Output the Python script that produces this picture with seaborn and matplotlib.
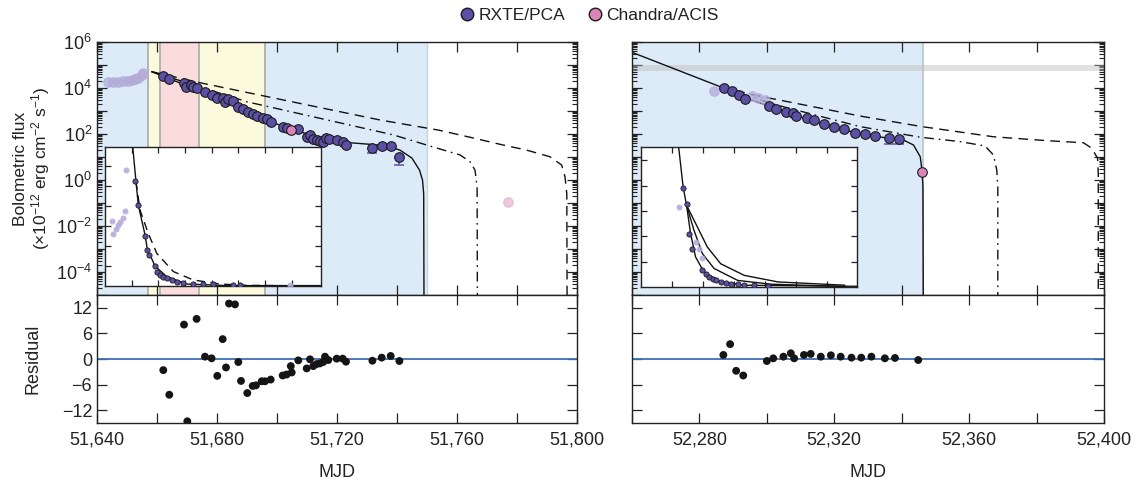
import numpy as np
import pandas as pd
import matplotlib
matplotlib.use("Agg")
import matplotlib.pyplot as plt
import seaborn as sns
from matplotlib.ticker import LogLocator, MultipleLocator, FuncFormatter, NullFormatter, FixedLocator
from matplotlib.lines import Line2D

# ------------------------------------------------------------------ data
# ---- left outburst (MJD 51640-51800), log10 bolometric flux
left_pre_mjd = [51643.8, 51645.4, 51647.1, 51648.8, 51650.4, 51651.6, 51652.7, 51653.8, 51654.9, 51655.4]
left_pre_log = [4.27, 4.25, 4.27, 4.32, 4.32, 4.35, 4.39, 4.42, 4.57, 4.64]
left_mjd = [51662.1, 51664.1, 51669.0, 51669.7, 51671.2, 51672.1, 51673.2, 51676.0, 51678.2, 51679.9,
            51682.1, 51682.7, 51683.8, 51685.4, 51687.1, 51688.6, 51690.2, 51692.1, 51693.2, 51695.2,
            51696.6, 51697.9, 51701.9, 51703.2, 51707.1, 51709.9, 51711.0, 51712.1, 51713.2, 51714.3,
            51715.4, 51716.2, 51717.4, 51719.9, 51721.9, 51723.0, 51731.8, 51734.9, 51737.9, 51740.8]
left_log = [4.52, 4.38, 4.20, 4.06, 4.13, 4.03, 3.99, 3.81, 3.70, 3.55,
            3.55, 3.41, 3.51, 3.43, 3.19, 3.07, 2.97, 2.87, 2.80, 2.68,
            2.64, 2.54, 2.29, 2.25, 2.20, 1.88, 1.96, 1.77, 1.74, 1.71,
            1.64, 1.81, 1.77, 1.74, 1.67, 1.52, 1.38, 1.49, 1.49, 0.99]
left_err_mjd = [51731.8, 51740.8]
left_err_log = [1.38, 0.99]
left_err_low = [1.17, 0.65]
left_chandra_mjd = [51704.6]
left_chandra_log = [2.17]
left_chandra_faint_mjd = [51777.1]
left_chandra_faint_log = [-0.94]

left_solid_mjd = [51658.2, 51672.1, 51685.4, 51697.7, 51711.0, 51724.3, 51736.0, 51741.0, 51745.0, 51747.5, 51748.5, 51748.9, 51749.0]
left_solid_log = [4.71, 3.99, 3.26, 2.53, 1.96, 1.62, 1.50, 1.30, 0.95, 0.43, 0.00, -0.60, -5.5]
left_dash_mjd = [51658.2, 51675.4, 51734.3, 51753.8, 51764.3, 51775.4, 51783.2, 51791.0, 51794.9, 51796.0, 51796.6, 51796.7]
left_dash_log = [4.71, 4.20, 2.61, 2.17, 1.86, 1.52, 1.30, 1.01, 0.65, 0.14, -0.60, -5.5]
left_dashdot_mjd = [51658.2, 51690.0, 51738.8, 51749.9, 51761.0, 51764.3, 51766.0, 51766.7, 51766.8]
left_dashdot_log = [4.71, 3.40, 1.96, 1.52, 1.09, 0.80, 0.43, -0.30, -5.5]

left_region_edges = [51640, 51657.1, 51661.0, 51674.1, 51696.0, 51749.9]
left_region_colors = ["#dcebf7", "#fbfadc", "#fbdcdc", "#fbfadc", "#dcebf7"]

left_res_mjd = [51662.1, 51664.1, 51669.0, 51670.1, 51673.2, 51676.0, 51678.2, 51680.1, 51681.9, 51683.0,
                51684.0, 51686.0, 51687.1, 51688.0, 51690.1, 51691.9, 51693.0, 51694.9, 51696.0, 51697.9,
                51701.9, 51703.2, 51704.6, 51704.9, 51707.1, 51709.9, 51711.0, 51712.1, 51713.2, 51714.3,
                51715.4, 51716.0, 51717.1, 51719.9, 51721.9, 51723.0, 51731.8, 51734.9, 51737.9, 51740.8]
left_res = [-2.61, -8.38, 8.06, -14.6, 9.40, 0.55, 0.16, -3.95, 4.66, -1.98,
            13.0, 12.8, -0.71, -5.14, -7.98, -6.32, -6.17, -5.22, -5.22, -4.82,
            -3.87, -3.64, -1.66, -3.16, -0.32, -2.21, -0.08, -1.66, -1.19, -1.03,
            -0.71, 0.55, -0.24, 0.08, 0.08, -0.63, -0.40, 0.32, 0.71, -0.47]

# ---- right outburst (MJD 52260-52400)
right_pre_mjd = [52284.4, 52295.5, 52297.5, 52299.5]
right_pre_log = [3.88, 3.65, 3.58, 3.48]
right_mjd = [52287.4, 52289.6, 52291.6, 52293.5, 52300.5, 52302.6, 52305.7, 52307.7, 52308.7, 52311.8,
             52314.0, 52317.0, 52319.9, 52323.0, 52326.0, 52329.1, 52332.1, 52336.2, 52339.3]
right_log = [3.99, 3.88, 3.70, 3.52, 3.22, 3.09, 2.97, 2.90, 2.78, 2.68,
             2.61, 2.42, 2.32, 2.20, 2.06, 1.99, 1.91, 1.81, 1.77]
right_err_mjd = [52336.2, 52339.3]
right_err_log = [1.81, 1.77]
right_err_low = [1.58, 1.58]
right_chandra_mjd = [52346.1]
right_chandra_log = [0.36]

right_solid_mjd = [52260.0, 52286.1, 52293.5, 52300.5, 52308.7, 52317.0, 52326.0, 52334.0, 52340.5, 52343.5, 52345.5, 52346.0, 52346.3, 52346.4]
right_solid_log = [5.55, 4.06, 3.58, 3.22, 2.80, 2.42, 2.06, 1.86, 1.74, 1.52, 1.01, 0.43, -0.30, -5.5]
right_dash_mjd = [52286.0, 52296.0, 52327.7, 52346.0, 52367.2, 52383.1, 52393.9, 52396.4, 52398.1, 52398.3, 52398.3]
right_dash_log = [4.05, 3.70, 2.78, 2.32, 1.88, 1.71, 1.62, 1.38, 0.94, 0.30, -5.5]
right_dashdot_mjd = [52286.0, 52302.9, 52327.7, 52345.5, 52357.3, 52364.7, 52367.2, 52368.2, 52368.5, 52368.5]
right_dashdot_log = [4.05, 3.26, 2.32, 1.86, 1.67, 1.48, 1.09, 0.43, -0.30, -5.5]

right_region_edges = [52260, 52346.4]
right_region_colors = ["#dcebf7"]
right_band_log = [4.75, 5.0]

right_res_mjd = [52287.1, 52289.1, 52290.9, 52293.0, 52300.0, 52301.9, 52304.9, 52307.1, 52308.1, 52311.0,
                 52313.0, 52316.0, 52319.0, 52321.9, 52325.1, 52328.0, 52331.0, 52335.0, 52338.0, 52344.9]
right_res = [0.95, 3.48, -2.77, -3.87, -0.47, 0.16, 0.55, 1.34, 0.16, 0.95,
             1.19, 0.55, 0.87, 0.55, 0.32, 0.32, 0.55, 0.16, 0.24, -0.24]

# ---- insets (linear, arbitrary units)
li_solid_x = [1.00, 1.04, 1.16, 1.25, 1.50, 1.58, 1.87, 2.31, 3.06, 4.56, 8.09]
li_solid_y = [7.40, 6.93, 5.22, 4.02, 2.55, 1.88, 1.00, 0.47, 0.10, 0.02, 0.02]
li_dash_x = [1.16, 1.31, 1.62, 1.94, 2.56, 3.31, 4.31, 5.31, 6.60]
li_dash_y = [5.22, 3.80, 2.63, 1.63, 0.72, 0.30, 0.10, 0.03, 0.02]
li_pts_x = [1.14, 1.24, 1.50, 1.59, 1.66, 1.87, 1.96, 2.06, 2.18, 2.31, 2.50, 2.69, 2.93, 3.31, 3.68, 4.06, 4.81, 5.06]
li_pts_y = [5.22, 4.02, 2.52, 1.80, 1.55, 1.00, 0.72, 0.55, 0.47, 0.38, 0.30, 0.22, 0.13, 0.10, 0.08, 0.08, 0.07, 0.07]
li_faint_x = [0.79, 0.25, 0.31, 0.41, 0.50, 0.56, 0.66, 0.75, 6.93]
li_faint_y = [5.80, 3.27, 2.60, 2.83, 3.05, 3.22, 3.38, 3.72, 0.05]

ri_c1_x = [1.17, 1.22, 1.36, 1.47, 1.60, 1.76, 2.03, 2.57, 3.33, 6.58, 6.97]
ri_c1_y = [5.90, 5.47, 3.95, 3.23, 2.11, 1.19, 0.59, 0.20, 0.07, 0.03, 0.03]
ri_c2_x = [1.47, 1.71, 1.98, 2.36, 3.12, 4.20, 6.58]
ri_c2_y = [3.23, 2.24, 1.32, 0.73, 0.26, 0.11, 0.02]
ri_c3_x = [1.47, 1.82, 2.14, 2.57, 3.33, 4.42, 6.58]
ri_c3_y = [3.23, 2.37, 1.58, 0.92, 0.46, 0.20, 0.07]
ri_pts_x = [1.36, 1.47, 1.55, 1.66, 1.98, 2.09, 2.19, 2.31, 2.41, 2.57, 2.74, 2.90, 3.12, 3.33, 3.66, 4.09]
ri_pts_y = [3.91, 3.26, 2.11, 1.49, 0.69, 0.53, 0.40, 0.33, 0.26, 0.20, 0.16, 0.12, 0.11, 0.08, 0.07, 0.05]
ri_faint_x = [1.22, 1.76, 1.87, 1.98]
ri_faint_y = [3.16, 1.78, 1.49, 1.16]

# ------------------------------------------------------------------ style
PURPLE = "#5b4fa6"
FAINT = "#b3aad8"
PINK = "#dc84b8"
EDGE = "#1c1c1c"
RESBLUE = "#3f6fb5"
GRAYLINE = "#b4b4b4"

sns.set_theme(style="ticks")
plt.rcParams["font.family"] = ["Liberation Sans", "DejaVu Sans"]
plt.rcParams.update({
    "mathtext.fontset": "custom",
    "mathtext.rm": "Liberation Sans",
    "mathtext.it": "Liberation Sans:italic",
    "mathtext.bf": "Liberation Sans:bold",
    "xtick.direction": "in", "ytick.direction": "in",
    "xtick.top": True, "ytick.right": True,
    "xtick.major.size": 7, "ytick.major.size": 7,
    "xtick.minor.size": 3.5, "ytick.minor.size": 3.5,
    "xtick.major.width": 0.9, "ytick.major.width": 0.9,
    "xtick.minor.width": 0.8, "ytick.minor.width": 0.8,
    "axes.linewidth": 1.0, "axes.edgecolor": "#222222",
    "xtick.color": "#222222", "ytick.color": "#222222",
    "xtick.labelsize": 13, "ytick.labelsize": 13,
    "text.color": "#222222", "axes.labelcolor": "#222222",
})

W, H = 1147, 483
fig = plt.figure(figsize=(W / 100, H / 100), dpi=100)


def px_axes(x0, y0, x1, y1, **kw):
    return fig.add_axes([x0 / W, 1 - y1 / H, (x1 - x0) / W, (y1 - y0) / H], **kw)


axL = px_axes(97, 42, 577, 295)
axLr = px_axes(97, 295, 577, 423)
axR = px_axes(632, 42, 1104, 295)
axRr = px_axes(632, 295, 1104, 423)


def flux_df(mjd, logs):
    return pd.DataFrame({"mjd": mjd, "flux": 10.0 ** np.asarray(logs, dtype=float)})


def model_line(ax, mjd, logs, ls):
    sns.lineplot(data=flux_df(mjd, logs), x="mjd", y="flux", ax=ax, sort=False,
                 estimator=None, color="#111111", lw=1.0, linestyle=ls, zorder=2)


def points(ax, mjd, logs, color, alpha=1.0, s=48, edge=EDGE, z=4):
    sns.scatterplot(data=flux_df(mjd, logs), x="mjd", y="flux", ax=ax, s=s, color=color,
                    edgecolor=edge, linewidth=0.8, alpha=alpha, zorder=z, legend=False)


def err_low(ax, mjd, logs, lows):
    y = 10.0 ** np.asarray(logs)
    lo = y - 10.0 ** np.asarray(lows)
    ax.errorbar(mjd, y, yerr=[lo, np.zeros_like(lo)], fmt="none", ecolor=PURPLE,
                elinewidth=1.1, capsize=3.5, capthick=1.1, zorder=3)


def log_axis(ax, show_labels):
    ax.set_yscale("log")
    ax.set_ylim(1e-5, 1e6)
    ax.yaxis.set_major_locator(FixedLocator([10.0 ** k for k in range(-5, 7)]))
    ax.yaxis.set_minor_locator(LogLocator(base=10, subs=np.arange(2, 10), numticks=100))
    if show_labels:
        def fmt(v, p):
            k = int(round(np.log10(v)))
            return r"$10^{%d}$" % k if k % 2 == 0 else ""
        ax.yaxis.set_major_formatter(FuncFormatter(fmt))
    else:
        ax.yaxis.set_major_formatter(NullFormatter())
    ax.yaxis.set_minor_formatter(NullFormatter())


def mjd_axis(ax, lo, hi, first_label, labels):
    ax.set_xlim(lo, hi)
    ax.xaxis.set_major_locator(MultipleLocator(20))
    if labels:
        ax.xaxis.set_major_formatter(FuncFormatter(
            lambda v, p: f"{int(round(v)):,}" if (round(v) - first_label) % 40 == 0 else ""))
    else:
        ax.xaxis.set_major_formatter(NullFormatter())


# ------------------------------------------------------------------ left upper
for a, b, c in zip(left_region_edges[:-1], left_region_edges[1:], left_region_colors):
    axL.axvspan(a, b, color=c, lw=0, zorder=0)
for e in left_region_edges[1:-1]:
    axL.axvline(e, color=GRAYLINE, lw=1.4, zorder=0.5)
axL.axvline(left_region_edges[-1], color="#c9d3dc", lw=1.0, zorder=0.5)

log_axis(axL, True)
model_line(axL, left_solid_mjd, left_solid_log, "-")
model_line(axL, left_dash_mjd, left_dash_log, (0, (7, 4.5)))
model_line(axL, left_dashdot_mjd, left_dashdot_log, (0, (7, 3.5, 1.2, 3.5)))
points(axL, left_pre_mjd, left_pre_log, FAINT, alpha=0.75, edge=FAINT, z=3)
err_low(axL, left_err_mjd, left_err_log, left_err_low)
points(axL, left_mjd, left_log, PURPLE)
points(axL, left_chandra_mjd, left_chandra_log, PINK)
points(axL, left_chandra_faint_mjd, left_chandra_faint_log, PINK, alpha=0.45, edge="#c7a0b8")
mjd_axis(axL, 51640, 51800, 51640, False)
axL.set_xlabel("")
axL.set_ylabel("Bolometric flux\n(×10$^{-12}$ erg cm$^{-2}$ s$^{-1}$)", fontsize=12.5, linespacing=1.05)
axL.yaxis.set_label_coords(-0.094, 0.5)

# ------------------------------------------------------------------ right upper
for a, b, c in zip(right_region_edges[:-1], right_region_edges[1:], right_region_colors):
    axR.axvspan(a, b, color=c, lw=0, zorder=0)
axR.axvline(right_region_edges[-1], color="#c2ccd6", lw=1.4, zorder=0.5)
log_axis(axR, False)
axR.axhspan(10 ** right_band_log[0], 10 ** right_band_log[1], color="#bdbdbd", alpha=0.45, lw=0, zorder=0.6)
model_line(axR, right_solid_mjd, right_solid_log, "-")
model_line(axR, right_dash_mjd, right_dash_log, (0, (7, 4.5)))
model_line(axR, right_dashdot_mjd, right_dashdot_log, (0, (7, 3.5, 1.2, 3.5)))
points(axR, right_pre_mjd, right_pre_log, FAINT, alpha=0.75, edge=FAINT, z=3)
err_low(axR, right_err_mjd, right_err_log, right_err_low)
points(axR, right_mjd, right_log, PURPLE)
points(axR, right_chandra_mjd, right_chandra_log, PINK)
mjd_axis(axR, 52260, 52400, 52280, False)
axR.set_xlabel("")
axR.set_ylabel("")

# ------------------------------------------------------------------ residuals
for ax, mjd, res, lo, hi, first, show_y in [
        (axLr, left_res_mjd, left_res, 51640, 51800, 51640, True),
        (axRr, right_res_mjd, right_res, 52260, 52400, 52280, False)]:
    ax.axhline(0, color=RESBLUE, lw=1.3, zorder=1)
    sns.scatterplot(x=mjd, y=res, ax=ax, s=32, color="#151515", edgecolor="none", zorder=3, legend=False)
    mjd_axis(ax, lo, hi, first, True)
    ax.set_ylim(-15, 15)
    ax.set_yticks([-12, -6, 0, 6, 12])
    if show_y:
        ax.set_yticklabels(["\u221212", "\u22126", "0", "6", "12"])
        ax.set_ylabel("Residual", fontsize=13)
        ax.yaxis.set_label_coords(-0.115, 0.5)
    else:
        ax.set_yticklabels([])
        ax.set_ylabel("")
    ax.set_xlabel("MJD", fontsize=13, labelpad=11)
    ax.tick_params(axis="x", pad=6)

# ------------------------------------------------------------------ insets
def inset_setup(ax, xmax, ymax, nx, ny):
    ax.set_facecolor("white")
    ax.set_xlim(0, xmax)
    ax.set_ylim(0, ymax)
    ax.set_xticks(range(1, nx + 1))
    ax.set_yticks(range(1, ny + 1))
    ax.tick_params(which="both", direction="in", top=True, right=True, length=4.5,
                   labelbottom=False, labelleft=False)
    ax.set_xlabel("")
    ax.set_ylabel("")
    for sp in ax.spines.values():
        sp.set_linewidth(1.0)


def inset_line(ax, x, y, ls="-"):
    sns.lineplot(x=x, y=y, ax=ax, sort=False, estimator=None, color="#111111", lw=1.0,
                 linestyle=ls, zorder=2)


def inset_pts(ax, x, y, color, alpha=1.0, edge=EDGE):
    ax.errorbar(x, y, xerr=0.07, fmt="none", ecolor=color, elinewidth=1.0, alpha=alpha, zorder=3)
    sns.scatterplot(x=x, y=y, ax=ax, s=14, color=color, edgecolor=edge, linewidth=0.6,
                    alpha=alpha, zorder=4, legend=False)


axLi = px_axes(105, 147, 321, 286)
axLi.set_zorder(5)
inset_line(axLi, li_solid_x, li_solid_y)
inset_line(axLi, li_dash_x, li_dash_y, (0, (6, 4)))
inset_pts(axLi, li_faint_x, li_faint_y, FAINT, alpha=0.8, edge=FAINT)
inset_pts(axLi, li_pts_x, li_pts_y, PURPLE)
inset_setup(axLi, 8.09, 6.94, 7, 6)

axRi = px_axes(641, 147, 857, 287)
axRi.set_zorder(5)
inset_line(axRi, ri_c1_x, ri_c1_y)
inset_line(axRi, ri_c2_x, ri_c2_y)
inset_line(axRi, ri_c3_x, ri_c3_y)
inset_pts(axRi, ri_faint_x, ri_faint_y, FAINT, alpha=0.8, edge=FAINT)
inset_pts(axRi, ri_pts_x, ri_pts_y, PURPLE)
inset_setup(axRi, 6.97, 5.53, 6, 5)

# ------------------------------------------------------------------ legend
handles = [Line2D([], [], marker="o", ls="none", markersize=9, markerfacecolor=PURPLE, markeredgecolor=EDGE),
           Line2D([], [], marker="o", ls="none", markersize=9, markerfacecolor=PINK, markeredgecolor=EDGE)]
fig.legend(handles, ["RXTE/PCA", "Chandra/ACIS"], loc="center", bbox_to_anchor=(0.513, 0.968),
           ncol=2, frameon=False, fontsize=12.5, handletextpad=0.15, columnspacing=1.2,
           handlelength=1.0, borderaxespad=0)

fig.savefig("out.png", dpi=100)
